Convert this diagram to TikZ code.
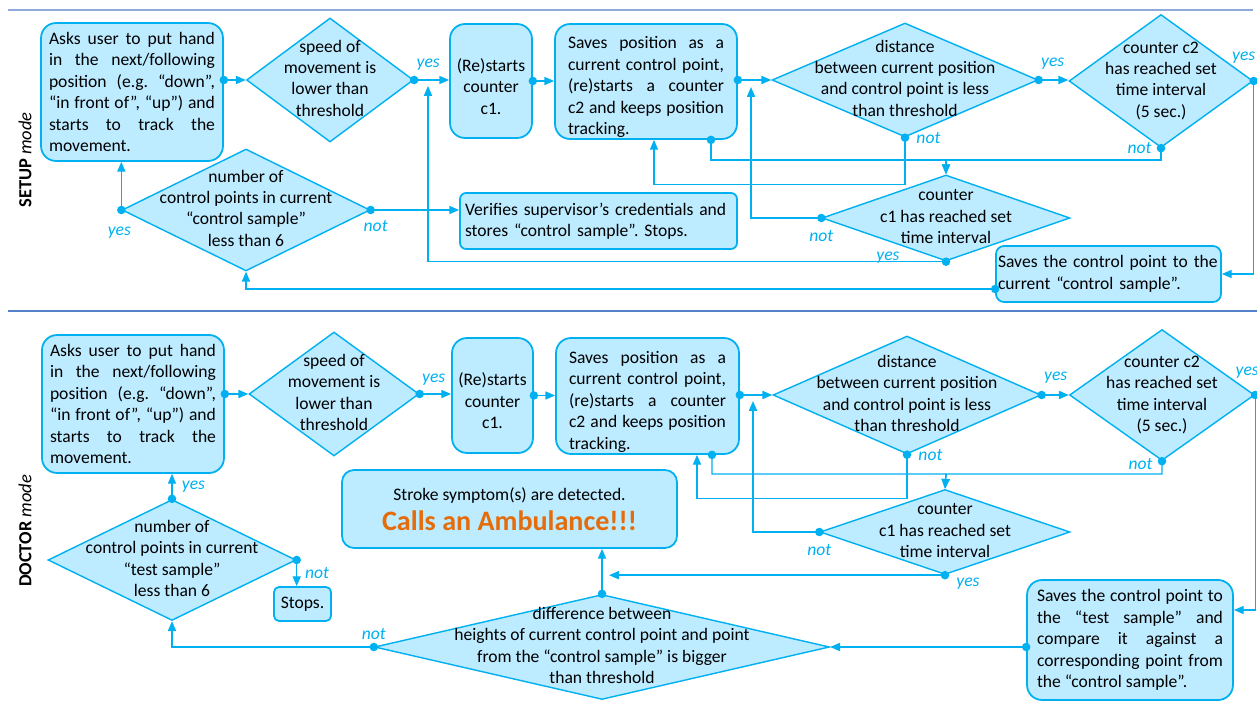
\documentclass[tikz,border=0pt]{standalone}
\usepackage{fontspec}
\setmainfont{Carlito}
\usetikzlibrary{shapes,arrows.meta}
\frenchspacing
\hyphenpenalty=10000
\exhyphenpenalty=10000

\definecolor{flowline}{RGB}{0,176,240}
\definecolor{flowfill}{RGB}{189,235,255}
\definecolor{ruleblue}{RGB}{142,170,219}
\definecolor{ruledark}{RGB}{84,130,200}
\definecolor{alarm}{RGB}{228,108,10}

% text of a decision, kept out of the size of the diamond
\newcommand{\dtext}[1]{\makebox[0pt]{\smash{\raisebox{-2.5pt}{\begin{tabular}{@{}c@{}}#1\end{tabular}}}}}
% taller first line, to push a text down in its box
\newcommand{\toppad}{\rule{0pt}{13.5pt}}

\begin{document}
\begin{tikzpicture}[x=0.02cm, y=-0.02cm]
% Define block styles
\tikzstyle{decision} = [diamond, draw=flowline, fill=flowfill, line width=0.8pt,
    inner sep=0pt, font=\fontsize{10}{12.2}\selectfont]
\tikzstyle{block} = [rectangle, draw=flowline, fill=flowfill, line width=1pt,
    rounded corners=0.3cm, align=justify, inner ysep=0.06cm, font=\fontsize{10}{12.2}\selectfont]
\tikzstyle{line} = [draw=flowline, line width=0.8pt,
    {Circle[length=4.8pt]}-{Triangle[length=5.6pt,width=4.6pt]}, shorten <=-2.4pt]
\tikzstyle{answer} = [font=\fontsize{10}{12}\selectfont\itshape, text=flowline, inner sep=1pt]
\tikzstyle{modename} = [rotate=90, font=\fontsize{10.5}{12}\selectfont]

\useasboundingbox (0,0) rectangle (1257,705);
% section rules
\draw[ruleblue, line width=1.2pt] (8,10) -- (1253,10);
\draw[ruledark, line width=1.2pt] (8,311) -- (1257,311);

% Place nodes: SETUP mode
\node[modename] (s-mode) at (25,160) {\textbf{SETUP} \textit{mode}};
\node[block, text width=3.32cm, inner xsep=0.16cm, minimum height=2.76cm] (s-ask) at (132,92)
    {Asks user to put hand\linebreak in the next/following\linebreak position (e.g. “down”,\linebreak
     “in front of”, “up”) and\linebreak starts to track the\linebreak movement.};
\node[decision, minimum width=3.34cm, minimum height=2.48cm] (s-speed) at (330,80)
    {\dtext{speed of\\movement is\\lower than\\threshold}};
\node[block, align=center, text width=1.4cm, inner xsep=0.12cm, minimum height=2.28cm] (s-restart) at (491,81)
    {\toppad(Re)starts\\counter\\c1.};
\node[block, text width=3.12cm, inner xsep=0.26cm, inner ysep=0pt, minimum height=2.3cm] (s-save) at (646,81.5)
    {\toppad Saves position as a\linebreak current control point,\linebreak (re)starts a counter\linebreak
     c2 and keeps position\linebreak tracking.};
\node[decision, minimum width=5.32cm, minimum height=2.28cm] (s-dist) at (905,80)
    {\dtext{distance\\between current position\\and control point is less\\than threshold}};
\node[decision, minimum width=3.68cm, minimum height=2.66cm] (s-ctwo) at (1161,81)
    {\dtext{counter c2\\has reached set\\time interval\\(5 sec.)}};
\node[decision, minimum width=4.96cm, minimum height=1.72cm] (s-cone) at (946,218)
    {\dtext{counter\\c1 has reached set\\time interval}};
\node[decision, minimum width=4.96cm, minimum height=2.44cm] (s-num) at (246,210)
    {\dtext{number of\\control points in current\\“control sample”\\less than 6}};
\node[block, align=left, text width=5.34cm, inner xsep=0.1cm, minimum height=1.12cm,
    rounded corners=0.12cm] (s-verify) at (598.5,221)
    {Verifies supervisor’s credentials and\\stores “control sample”. Stops.};
\node[block, align=left, text width=4.42cm, inner xsep=0.04cm, minimum height=1.12cm,
    rounded corners=0.16cm] (s-store) at (1108.5,274)
    {Saves the control point to the\\current “control sample”.};
\coordinate (s-j1) at (428,86);
\coordinate (s-j2) at (751,87);
\coordinate (s-bus) at (946,160);

% Draw edges: SETUP mode
\path [line] (s-speed.west -| s-ask.east) -- (s-speed.west);
\path [line] (s-speed.east) -- node[answer, at start, above right, yshift=0.14cm] (s-a1) {yes} (s-speed.east -| s-restart.west);
\path [line] (s-restart.east) -- (s-restart.east -| s-save.west);
\path [line] (s-dist.west -| s-save.east) -- (s-dist.west);
\path [line] (s-dist.east) -- node[answer, at start, above right, yshift=0.16cm] (s-a2) {yes} (s-dist.east -| s-ctwo.west);
\path [line] (s-ctwo.east) |- node[answer, at start, above left, xshift=0.08cm, yshift=0.3cm] (s-a3) {yes} (s-store.east);
\path [line] (s-dist.south) -- node[answer, at start, right=0.18cm] (s-a4) {not} ++(0,47) -| ([xshift=0.16cm]s-save.south);
\path [line] (s-ctwo.south) |- node[answer, at start, left=0.14cm] (s-a5) {not} (s-bus) -- (s-cone.north);
\path [line] ([xshift=1.3cm]s-save.south) |- (s-bus) -- (s-cone.north);
\path [line] (s-cone.west) -| node[answer, at start, below=0.2cm] (s-a6) {not} (s-j2);
\path [line] (s-cone.south) -| node[answer, pos=0.056, above, yshift=-0.08cm] (s-a7) {yes} (s-j1);
\path [line] ([yshift=-0.3cm]s-store.west) -| (s-num.south);
\path [line] (s-num.west) -- node[answer, at start, below=0.3cm, xshift=-0.04cm] (s-a8) {yes} (s-num.west |- s-ask.south);
\path [line] (s-num.east) -- node[answer, at start, below=0.16cm, xshift=0.1cm] (s-a9) {not} (s-num.east -| s-verify.west);

% Place nodes: DOCTOR mode
\node[modename] (d-mode) at (25,531) {\textbf{DOCTOR} \textit{mode}};
\node[block, text width=3.32cm, inner xsep=0.16cm, minimum height=2.76cm] (d-ask) at (133,404)
    {Asks user to put hand\linebreak in the next/following\linebreak position (e.g. “down”,\linebreak
     “in front of”, “up”) and\linebreak starts to track the\linebreak movement.};
\node[decision, minimum width=3.4cm, minimum height=2.48cm] (d-speed) at (334,394)
    {\dtext{speed of\\movement is\\lower than\\threshold}};
\node[block, align=center, text width=1.38cm, inner xsep=0.12cm, minimum height=2.3cm] (d-restart) at (492.5,395.5)
    {\toppad(Re)starts\\counter\\c1.};
\node[block, text width=3.14cm, inner xsep=0.26cm, inner ysep=0pt, minimum height=2.32cm] (d-save) at (647.5,396)
    {\toppad Saves position as a\linebreak current control point,\linebreak (re)starts a counter\linebreak
     c2 and keeps position\linebreak tracking.};
\node[decision, minimum width=5.36cm, minimum height=2.36cm] (d-dist) at (907,395)
    {\dtext{distance\\between current position\\and control point is less\\than threshold}};
\node[decision, minimum width=3.7cm, minimum height=2.62cm] (d-ctwo) at (1162,395)
    {\dtext{counter c2\\has reached set\\time interval\\(5 sec.)}};
\node[decision, minimum width=5cm, minimum height=1.7cm] (d-cone) at (945,532)
    {\dtext{counter\\c1 has reached set\\time interval}};
\node[block, align=center, minimum width=6.7cm, minimum height=1.56cm, rounded corners=0.24cm] (d-call) at (509.5,509)
    {Stroke symptom(s) are detected.\\[3pt]{\color{alarm}\fontsize{16}{19}\selectfont\bfseries Calls an Ambulance!!!}};
\node[decision, minimum width=4.96cm, minimum height=2.42cm] (d-num) at (172,560)
    {\dtext{number of\\control points in current\\“test sample”\\less than 6}};
\node[block, align=center, minimum width=1.14cm, minimum height=0.68cm, inner xsep=0.05cm,
    rounded corners=0.1cm] (d-stop) at (302.5,604) {Stops.};
\node[decision, minimum width=9.1cm, minimum height=2.1cm] (d-diff) at (602,647)
    {\dtext{difference between\\heights of current control point and point\\from the “control sample” is bigger\\than threshold}};
\node[block, text width=3.72cm, inner xsep=0.2cm, minimum height=2.4cm] (d-store) at (1130,640)
    {Saves the control point to\linebreak the “test sample” and\linebreak compare it against a\linebreak
     corresponding point from\linebreak the “control sample”.};
\coordinate (d-j1) at (753,401);
\coordinate (d-j2) at (609,575);
\coordinate (d-bus) at (946,474);

% Draw edges: DOCTOR mode
\path [line] (d-speed.west -| d-ask.east) -- (d-speed.west);
\path [line] (d-speed.east) -- node[answer, at start, above right, yshift=0.12cm] (d-a1) {yes} (d-speed.east -| d-restart.west);
\path [line] (d-restart.east) -- (d-restart.east -| d-save.west);
\path [line] (d-dist.west -| d-save.east) -- (d-dist.west);
\path [line] (d-dist.east) -- node[answer, at start, above right, yshift=0.18cm] (d-a2) {yes} (d-dist.east -| d-ctwo.west);
\path [line] (d-ctwo.east) |- node[answer, at start, above left, xshift=0.12cm, yshift=0.28cm] (d-a3) {yes} ([yshift=0.6cm]d-store.east);
\path [line] (d-dist.south) -- node[answer, at start, right=0.18cm] (d-a4) {not} ++(0,44) -| ([xshift=0.99cm]d-save.south);
\path [line] (d-ctwo.south) |- node[answer, at start, left=0.14cm, yshift=-0.06cm] (d-a5) {not} (d-bus) -- (d-cone.north);
\path [line] ([xshift=1.29cm]d-save.south) |- (d-bus) -- (d-cone.north);
\path [line] (d-cone.west) -| node[answer, at start, below=0.2cm] (d-a6) {not} (d-j1);
\path [line] (d-cone.south) -- node[answer, at start, below right, xshift=0.18cm] (d-a7) {yes} (d-cone.south -| d-j2);
\path [line] (d-store.west |- d-diff.east) -- (d-diff.east);
\path [line] (d-diff.north) -- (d-diff.north |- d-call.south);
\path [line] (d-diff.west) -| node[answer, at start, above=0.1cm] (d-a10) {not} (d-num.south);
\path [line] (d-num.north) -- node[answer, midway, right=0.15cm] (d-a8) {yes} (d-num.north |- d-ask.south);
\path [line] (d-num.east) -- node[answer, midway, right=0.12cm] (d-a9) {not} (d-num.east |- d-stop.north);
\end{tikzpicture}
\end{document}
